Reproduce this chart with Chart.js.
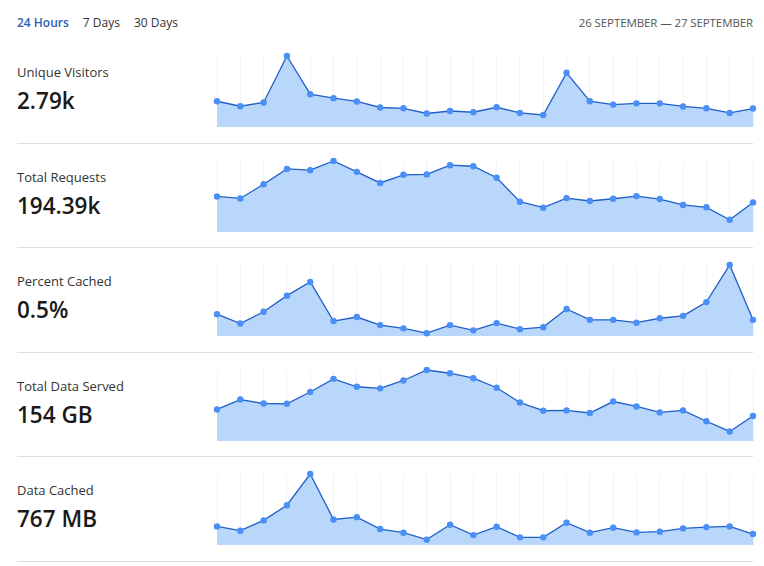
<!DOCTYPE html>
<html>
<head>
<meta charset="utf-8">
<script src="https://cdn.jsdelivr.net/npm/chart.js@4/dist/chart.umd.min.js"></script>
<style>
  html, body { margin: 0; padding: 0; background: #fff; }
  body { width: 764px; height: 566px; font-family: "Open Sans", "Noto Sans", sans-serif; position: relative; overflow: hidden; }
  .tabs { position: absolute; left: 17px; top: 15px; font-size: 12px; line-height: 16px; color: #333; }
  .tabs span { margin-right: 14px; }
  .tabs .on { color: #2a5db7; font-weight: 600; }
  .range { position: absolute; right: 11px; top: 15px; font-size: 11.5px; line-height: 16px; color: #555; letter-spacing: -0.1px; }
  .rows { position: absolute; left: 17px; top: 39px; width: 736px; }
  .row { position: relative; height: 103.5px; border-bottom: 1px solid #dcdcdc; }
  .label { position: absolute; left: 0; top: 25px; font-size: 13px; line-height: 16px; color: #333; }
  .value { position: absolute; left: 0; top: 47px; font-size: 22.5px; line-height: 30px; font-weight: 600; color: #1a1a1a; }
  .row canvas { position: absolute; left: 194px; top: 11px; }
</style>
</head>
<body>
<div class="tabs"><span class="on">24 Hours</span><span>7 Days</span><span>30 Days</span></div>
<div class="range">26 SEPTEMBER — 27 SEPTEMBER</div>
<div class="rows" id="rows"></div>
<script>
// hourly buckets, 26 Sep -> 27 Sep
var hours = ['00:00','01:00','02:00','03:00','04:00','05:00','06:00','07:00','08:00','09:00','10:00','11:00',
             '12:00','13:00','14:00','15:00','16:00','17:00','18:00','19:00','20:00','21:00','22:00','23:00'];

var uniqueVisitors = [124, 100, 118, 342, 158, 139, 123, 94, 90, 65, 77, 71,
                      95, 68, 58, 261, 124, 108, 114, 114, 99, 90, 68, 89];
var totalRequests = [6650, 6280, 8940, 11810, 11570, 13290, 11260, 9180, 10710, 10780, 12500, 12310,
                     10150, 5670, 4560, 6350, 5800, 6220, 6720, 6170, 5060, 4620, 2290, 5540];
var percentCached = [0.54, 0.31, 0.60, 1.00, 1.34, 0.37, 0.47, 0.27, 0.19, 0.07, 0.27, 0.14,
                     0.32, 0.17, 0.22, 0.67, 0.40, 0.40, 0.33, 0.44, 0.50, 0.84, 1.76, 0.40];
var dataServedGB = [4.88, 6.41, 5.80, 5.75, 7.58, 9.61, 8.39, 8.14, 9.36, 10.98, 10.48, 9.71,
                    8.24, 5.95, 4.68, 4.73, 4.33, 6.10, 5.34, 4.42, 4.73, 3.05, 1.48, 3.87];
var dataCachedMB = [30.9, 23.8, 40.9, 66.2, 118.1, 42.5, 46.3, 26.5, 20.5, 8.9, 33.7, 16.5,
                    30.4, 12.7, 12.7, 37.0, 20.5, 28.8, 21.0, 22.2, 27.6, 29.8, 30.9, 18.2];

var labels = ['Unique Visitors', 'Total Requests', 'Percent Cached', 'Total Data Served', 'Data Cached'];
var totals = ['2.79k', '194.39k', '0.5%', '154 GB', '767 MB'];
var series = [uniqueVisitors, totalRequests, percentCached, dataServedGB, dataCachedMB];

var rowsEl = document.getElementById('rows');

for (var i = 0; i < series.length; i++) {
  var row = document.createElement('div');
  row.className = 'row';
  row.innerHTML = '<div class="label">' + labels[i] + '</div><div class="value">' + totals[i] + '</div>';
  var canvas = document.createElement('canvas');
  canvas.width = 548;
  canvas.height = 83;
  canvas.style.width = '548px';
  canvas.style.height = '83px';
  row.appendChild(canvas);
  rowsEl.appendChild(row);

  new Chart(canvas.getContext('2d'), {
    type: 'line',
    data: {
      labels: hours,
      datasets: [{
        data: series[i],
        borderColor: '#1f5fc9',
        borderWidth: 1.3,
        backgroundColor: '#b9d7fb',
        fill: 'start',
        tension: 0,
        clip: false,
        pointRadius: 3.2,
        pointBackgroundColor: '#4a8ff5',
        pointBorderColor: '#4a8ff5',
        pointBorderWidth: 0
      }]
    },
    options: {
      responsive: false,
      animation: false,
      events: [],
      layout: { padding: 6 },
      plugins: { legend: { display: false }, tooltip: { enabled: false } },
      scales: {
        x: {
          offset: false,
          grid: { color: '#edf3fd', lineWidth: 1, drawTicks: false },
          border: { display: false },
          ticks: { display: false }
        },
        y: {
          display: false,
          min: 0,
          max: Math.max.apply(null, series[i])
        }
      }
    }
  });
}
</script>
</body>
</html>
